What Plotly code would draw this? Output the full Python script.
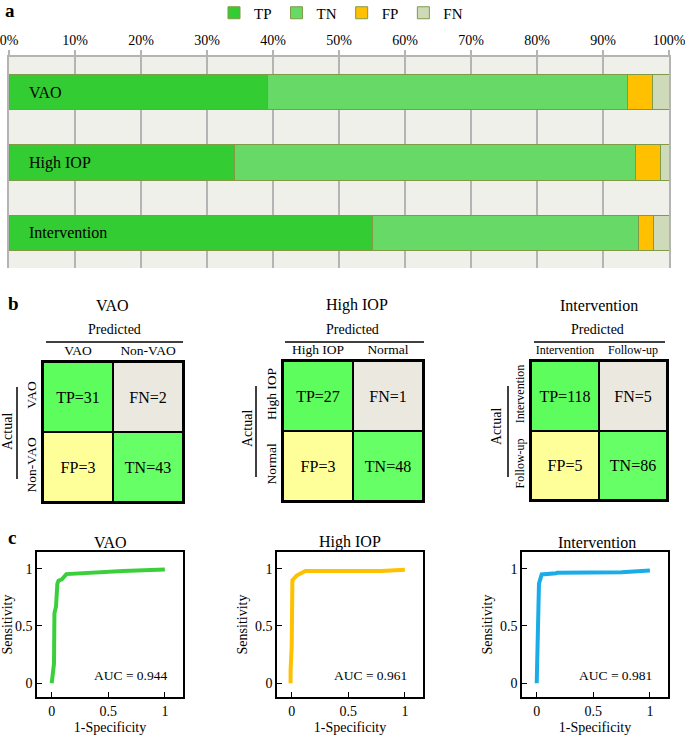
import plotly.graph_objects as go

W, H = 685, 735
FONT = "Liberation Serif"

# ---------------- data ----------------
# panel a / b : confusion counts
tasks = ["VAO", "High IOP", "Intervention"]
tp_counts = [31, 27, 118]
fn_counts = [2, 1, 5]
fp_counts = [3, 3, 5]
tn_counts = [43, 48, 86]
outcome_names = ["TP", "TN", "FP", "FN"]
outcome_colors = ["#33cc33", "#66d966", "#ffc000", "#cfdbb8"]
pct_ticks = [0, 10, 20, 30, 40, 50, 60, 70, 80, 90, 100]
pct_labels = ["0%", "10%", "20%", "30%", "40%", "50%", "60%", "70%", "80%", "90%", "100%"]

# panel b labels
pos_labels = ["VAO", "High IOP", "Intervention"]
neg_labels = ["Non-VAO", "Normal", "Follow-up"]
cell_colors = ["#5dfd5d", "#ebe8e0", "#ffff99", "#66ff66"]  # TP, FN, FP, TN

# panel c : ROC curves
vao_fpr = [0, 0.02, 0.024, 0.038, 0.05, 0.06, 0.09, 0.13, 0.63, 1.0]
vao_tpr = [0, 0.17, 0.61, 0.67, 0.87, 0.895, 0.907, 0.953, 0.98, 0.994]
iop_fpr = [-0.01, -0.01, 0.0, 0.006, 0.044, 0.12, 0.79, 1.0]
iop_tpr = [0, 0.11, 0.32, 0.9, 0.94, 0.98, 0.98, 0.99]
int_fpr = [0, 0.006, 0.015, 0.02, 0.044, 0.17, 0.18, 0.75, 0.93, 1.0]
int_tpr = [0, 0.61, 0.65, 0.87, 0.95, 0.96, 0.965, 0.97, 0.985, 0.985]
auc_values = [0.944, 0.961, 0.981]
roc_colors = ["#3ccf3c", "#ffc000", "#1aace8"]
roc_ticks = [0, 0.5, 1]
roc_ticklabels = ["0", "0.5", "1"]


def dx(a, b):
    return [a / W, b / W]


def dy(top, bottom):
    return [1 - bottom / H, 1 - top / H]


def px(x):
    return x / W


def py(y):
    return 1 - y / H


fig = go.Figure()

# ---------------- panel a ----------------
totals = [tp_counts[i] + fn_counts[i] + fp_counts[i] + tn_counts[i] for i in range(3)]
series = [tp_counts, tn_counts, fp_counts, fn_counts]
for name, col, cnt in zip(outcome_names, outcome_colors, series):
    fig.add_trace(go.Bar(
        y=tasks, x=[100 * c / t for c, t in zip(cnt, totals)], orientation="h",
        name=name, marker=dict(color=col, line=dict(color="#809a48", width=1)),
        xaxis="x", yaxis="y", hoverinfo="skip"))

# ---------------- panel b ----------------
cm_axes = [("x2", "y2"), ("x3", "y3"), ("x4", "y4")]
for i, (xa, ya) in enumerate(cm_axes):
    fig.add_trace(go.Heatmap(z=[[0, 0], [0, 0]], x=[0, 1], y=[0, 1],
                             colorscale=[[0, "black"], [1, "black"]], showscale=False,
                             hoverinfo="skip", xaxis=xa, yaxis=ya))
    txt = [[f"TP={tp_counts[i]}", f"FN={fn_counts[i]}"],
           [f"FP={fp_counts[i]}", f"TN={tn_counts[i]}"]]
    fig.add_trace(go.Heatmap(
        z=[[0, 1], [2, 3]], x=[0, 1], y=[0, 1], zmin=0, zmax=3,
        colorscale=[[0, cell_colors[0]], [1 / 3, cell_colors[1]], [2 / 3, cell_colors[2]], [1, cell_colors[3]]],
        showscale=False, xgap=2, ygap=2, text=txt, texttemplate="%{text}",
        textfont=dict(family=FONT, size=16, color="black"),
        hoverinfo="skip", xaxis=xa, yaxis=ya))

# ---------------- panel c ----------------
roc_axes = [("x5", "y5"), ("x6", "y6"), ("x7", "y7")]
roc_data = [(vao_fpr, vao_tpr), (iop_fpr, iop_tpr), (int_fpr, int_tpr)]
for (xa, ya), (fx, ty), col in zip(roc_axes, roc_data, roc_colors):
    fig.add_trace(go.Scatter(x=fx, y=ty, mode="lines", line=dict(color=col, width=4),
                             showlegend=False, hoverinfo="skip", xaxis=xa, yaxis=ya))

layout = dict(
    width=W, height=H, margin=dict(l=0, r=0, t=0, b=0, autoexpand=False),
    paper_bgcolor="white", plot_bgcolor="white",
    barmode="stack", bargap=0.5,
    font=dict(family=FONT, color="black"),
    showlegend=True,
    legend=dict(orientation="h", x=341 / W, xanchor="center", y=py(13), yanchor="middle",
                font=dict(family=FONT, size=15), itemwidth=30, bgcolor="rgba(0,0,0,0)",
                traceorder="normal"),
)

grey = "#b4b4b4"
layout["xaxis"] = dict(domain=dx(9, 669), range=[0, 100], side="top", tickvals=pct_ticks,
                       ticktext=pct_labels, ticks="outside", ticklen=5, tickwidth=1.5, tickcolor=grey,
                       showline=True, linecolor=grey, linewidth=1.5, showgrid=True, gridcolor=grey,
                       gridwidth=1.5, zeroline=False, tickfont=dict(size=14), anchor="y",
                       ticklabeloverflow="allow", fixedrange=True)
layout["yaxis"] = dict(domain=dy(57, 268), type="category", range=[2.5, -0.5], showticklabels=False,
                       showgrid=False, zeroline=False, showline=True, linecolor=grey, linewidth=1.5,
                       mirror=True, anchor="x", ticks="")

cm_dom = [(dx(43, 183), dy(362, 502)), (dx(283, 423), dy(361, 501)), (dx(531, 667), dy(361, 500))]
cm_fs = [13.5, 13.5, 12]
for i, (xd, yd) in enumerate(cm_dom):
    n = i + 2
    layout[f"xaxis{n}"] = dict(domain=xd, range=[-0.5, 1.5], side="top", tickvals=[0, 1],
                               ticktext=[pos_labels[i], neg_labels[i]], ticks="", showgrid=False,
                               zeroline=False, showline=True, mirror=True, linecolor="black", linewidth=2,
                               tickfont=dict(size=cm_fs[i]), anchor=f"y{n}")
    layout[f"yaxis{n}"] = dict(domain=yd, range=[1.5, -0.5], tickvals=[0, 1],
                               ticktext=[pos_labels[i], neg_labels[i]], tickangle=-90, ticks="",
                               showgrid=False, zeroline=False, showline=True, mirror=True,
                               linecolor="black", linewidth=2, tickfont=dict(size=cm_fs[i]),
                               anchor=f"x{n}")

roc_dom = [dx(37, 183), dx(277, 423), dx(522, 668)]
for i, xd in enumerate(roc_dom):
    n = i + 5
    layout[f"xaxis{n}"] = dict(domain=xd, range=[-0.13, 1.16], tickvals=roc_ticks, ticktext=roc_ticklabels,
                               ticks="inside", ticklen=5, tickcolor="black", showline=True, mirror=True,
                               linecolor="black", linewidth=1.5, showgrid=False, zeroline=False,
                               tickfont=dict(size=14), title=dict(text="1-Specificity", font=dict(size=14), standoff=6),
                               anchor=f"y{n}")
    layout[f"yaxis{n}"] = dict(domain=dy(552, 697), range=[-0.12, 1.146], tickvals=roc_ticks,
                               ticktext=roc_ticklabels, ticks="inside", ticklen=5, tickcolor="black",
                               showline=True, mirror=True, linecolor="black", linewidth=1.5,
                               showgrid=False, zeroline=False, tickfont=dict(size=14),
                               title=dict(text="Sensitivity", font=dict(size=14), standoff=4),
                               anchor=f"x{n}")

annotations = []
# panel letters
for letter, (xx, yy) in zip(["a", "b", "c"], [(3, 10), (6, 304), (6, 537)]):
    annotations.append(dict(text=f"<b>{letter}</b>", x=px(xx), y=py(yy), xref="paper", yref="paper",
                            xanchor="left", yanchor="middle", showarrow=False,
                            font=dict(size=19, family=FONT)))
# bar labels
for t in tasks:
    annotations.append(dict(text=t, x=2.7, y=t, xref="x", yref="y", xanchor="left", yanchor="middle",
                            showarrow=False, font=dict(size=16)))
# confusion-matrix titles / labels
cm_title_x = [112, 357, 599]
pred_x = [115, 353, 597]
actual_x = [7, 247, 496]
actual_y = [432, 429, 427]
for i in range(3):
    annotations.append(dict(text=tasks[i], x=px(cm_title_x[i]), y=py(305), xref="paper", yref="paper",
                            xanchor="center", yanchor="middle", showarrow=False, font=dict(size=16)))
    annotations.append(dict(text="Predicted", x=px(pred_x[i]), y=py(329), xref="paper", yref="paper",
                            xanchor="center", yanchor="middle", showarrow=False, font=dict(size=14)))
    annotations.append(dict(text="Actual", x=px(actual_x[i]), y=py(actual_y[i]), xref="paper", yref="paper",
                            xanchor="center", yanchor="middle", textangle=-90, showarrow=False,
                            font=dict(size=14)))
# ROC titles and AUC
roc_title_x = [110, 350, 597]
for i in range(3):
    annotations.append(dict(text=tasks[i], x=px(roc_title_x[i]), y=py(542), xref="paper", yref="paper",
                            xanchor="center", yanchor="middle", showarrow=False, font=dict(size=16)))
    annotations.append(dict(text=f"AUC = {auc_values[i]:.3f}", x=1.035, y=0.064, xref=f"x{i+5}",
                            yref=f"y{i+5}", xanchor="right", yanchor="middle", showarrow=False,
                            font=dict(size=13.5)))
layout["annotations"] = annotations

shapes = [dict(type="rect", xref="x domain", yref="y domain", x0=0, x1=1, y0=0, y1=1,
               fillcolor="#eff0ea", line=dict(width=0), layer="below")]
under = [(46, 183), (285, 424), (534, 665)]
vline = [(17, 387, 479), (256, 386, 477), (508, 386, 477)]
for (a, b) in under:
    shapes.append(dict(type="line", xref="paper", yref="paper", x0=px(a), x1=px(b), y0=py(342), y1=py(342),
                       line=dict(color="black", width=1.5)))
for (xx, a, b) in vline:
    shapes.append(dict(type="line", xref="paper", yref="paper", x0=px(xx), x1=px(xx), y0=py(a), y1=py(b),
                       line=dict(color="black", width=1.5)))
layout["shapes"] = shapes

fig.update_layout(**layout)
fig.write_html("out.html", config={"displayModeBar": False},
               post_script="document.body.style.margin='0';")
